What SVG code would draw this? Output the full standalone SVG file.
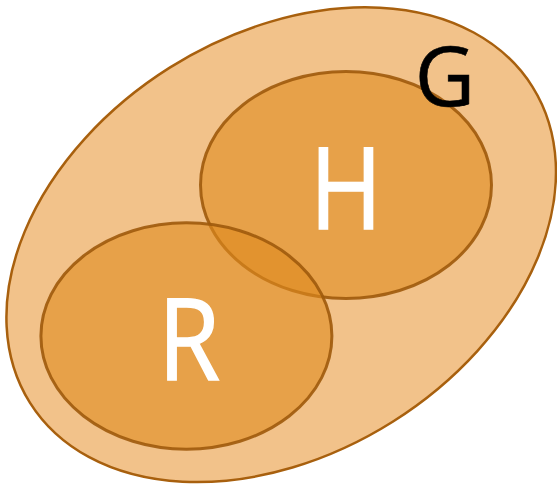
<svg xmlns="http://www.w3.org/2000/svg" width="557" height="486" viewBox="0 0 557 486">
<style>
.set{fill:#E08A1E;fill-opacity:0.6;stroke:#9E5A0C;stroke-width:3;stroke-opacity:0.9}
.lbl{font-family:"Open Sans","Liberation Sans",sans-serif;text-anchor:middle}
.w{fill:#fff;stroke:#fff;stroke-width:1.6}
</style>
<rect width="557" height="486" fill="#fff"/>
<g id="G">
<ellipse cx="281.2" cy="244.7" rx="296.8" ry="209.2" transform="rotate(-32.2 281.2 244.7)" fill="#F2C28A" stroke="#A8600E" stroke-width="2.5"/>
</g>
<g id="H">
<ellipse class="set" cx="346" cy="185" rx="145.5" ry="113.5"/>
<text class="lbl w" transform="translate(346 228.5) scale(0.87 1)" font-size="113">H</text>
</g>
<g id="R">
<ellipse class="set" cx="186.4" cy="336" rx="145.5" ry="113.2"/>
<text class="lbl w" transform="translate(189 379.5) scale(0.89 1)" font-size="113">R</text>
</g>
<g id="G-label">
<text class="lbl" x="445" y="106" font-size="83" fill="#000" stroke="#000" stroke-width="0.6">G</text>
</g>
<g id="connectors"/>
</svg>
